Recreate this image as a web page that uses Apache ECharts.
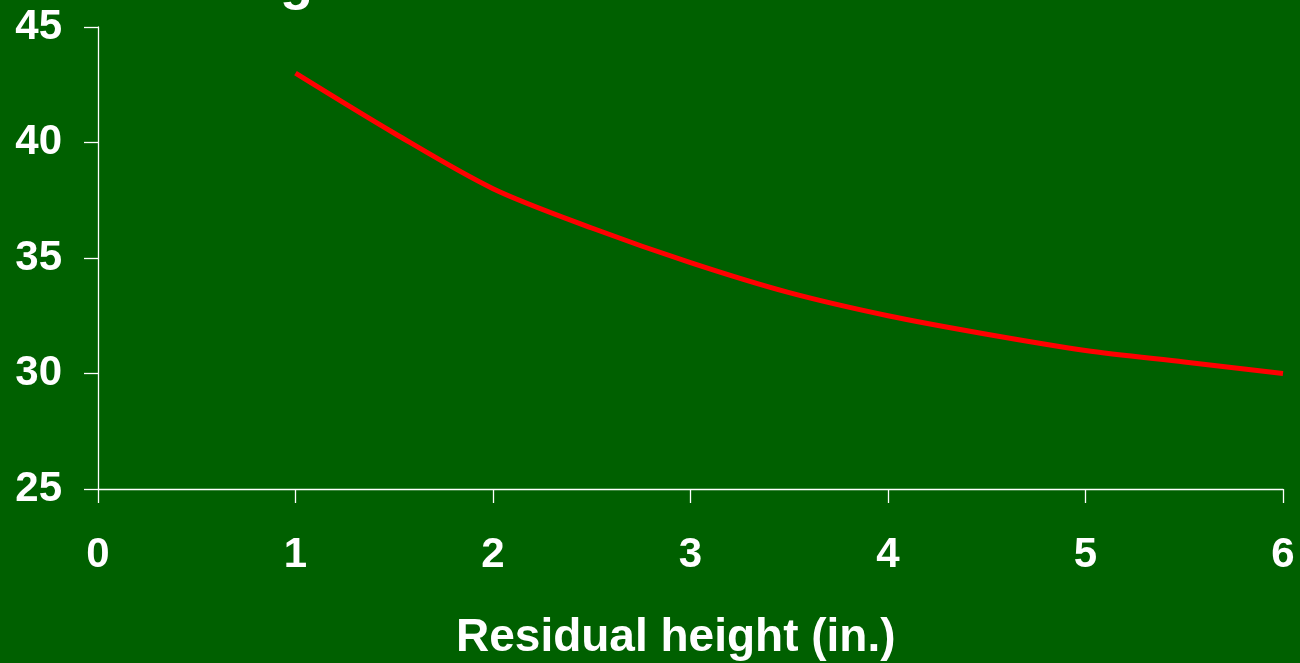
<!DOCTYPE html>
<html>
<head>
<meta charset="utf-8">
<script src="https://cdn.jsdelivr.net/npm/echarts@6/dist/echarts.min.js"></script>
<style>
html,body{margin:0;padding:0;background:#006000;}
#c{width:1300px;height:663px;}
</style>
</head>
<body>
<div id="c"></div>
<script>
var residualHeight = [1, 1.5, 2, 2.5, 3, 3.5, 4, 4.5, 5, 5.5, 6];
var values = [43.0, 40.4, 38.0, 36.3, 34.8, 33.5, 32.5, 31.7, 31.0, 30.5, 30.0];
var xTicks = [0, 6, 1];
var yTicks = [25, 45, 5];
var xAxisTitle = 'Residual height (in.)';

var chart = echarts.init(document.getElementById('c'));
var font = '"Liberation Sans", Arial, sans-serif';
chart.setOption({
  backgroundColor: '#006000',
  animation: false,
  grid: { left: 98, right: 17, top: 27, bottom: 174, containLabel: false },
  title: {
    text: xAxisTitle,
    left: 451, top: 610,
    textStyle: { color: '#ffffff', fontFamily: font, fontWeight: 'bold', fontSize: 46 }
  },
  graphic: [{
    type: 'text', left: 280, top: -43,
    style: { text: 'g', fill: '#ffffff', font: 'bold 54px ' + font }
  }],
  xAxis: {
    type: 'value', min: xTicks[0], max: xTicks[1], interval: xTicks[2],
    axisLine: { show: true, lineStyle: { color: '#ffffff', width: 1.3 } },
    axisTick: { show: true, inside: false, length: 14, lineStyle: { color: '#ffffff', width: 1.3 } },
    splitLine: { show: false },
    axisLabel: { color: '#ffffff', fontFamily: font, fontWeight: 'bold', fontSize: 42, margin: 45 }
  },
  yAxis: {
    type: 'value', min: yTicks[0], max: yTicks[1], interval: yTicks[2],
    axisLine: { show: true, lineStyle: { color: '#ffffff', width: 1.3 } },
    axisTick: { show: true, inside: false, length: 14, lineStyle: { color: '#ffffff', width: 1.3 } },
    splitLine: { show: false },
    axisLabel: { color: '#ffffff', fontFamily: font, fontWeight: 'bold', fontSize: 42, margin: 36 }
  },
  series: [{
    type: 'line',
    data: residualHeight.map(function (x, i) { return [x, values[i]]; }),
    smooth: 0.3,
    showSymbol: false,
    lineStyle: { color: '#ff0000', width: 5 }
  }]
});
</script>
</body>
</html>
